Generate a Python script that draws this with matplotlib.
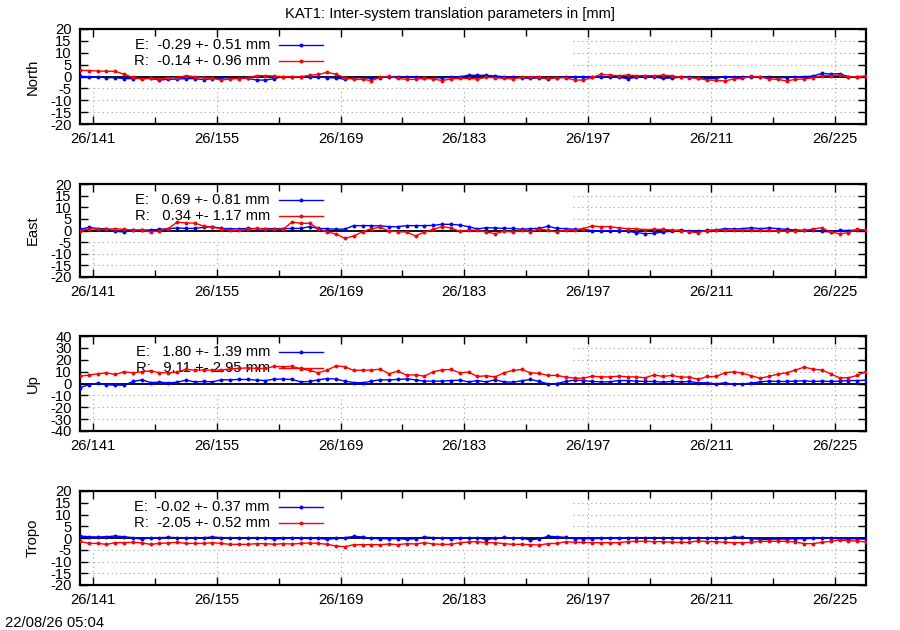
import numpy as np
import matplotlib
matplotlib.use("Agg")
import matplotlib.pyplot as plt
from matplotlib.ticker import FixedLocator, FuncFormatter

plt.rcParams['font.family'] = ['Liberation Sans', 'DejaVu Sans']

# ---------------- data ----------------
days = np.arange(139.5, 229.0, 1.0)          # day of year 2026 (90 daily solutions)
major_days = [141, 155, 169, 183, 197, 211, 225]
minor_days = [148, 162, 176, 190, 204, 218]

north_E = [0.07, -0.07, -0.2, -0.5, -0.5, -0.9, -0.9, -0.8, -0.8, -1.5, -1.2, -1.05, -0.9, -0.9, -1.3,
           -0.9, -0.6, -0.6, -0.8, -0.8, -1.5, -1.5, -0.9, -0.07, -0.07, -0.07, -0.07, -0.07, -0.5, -0.6,
           -1.2, -0.5, -0.5, -0.8, -0.5, -0.07, -0.2, -0.35, -0.07, -0.5, -0.5, -0.6, -0.35,
           -0.07, 0.5, 0.5, 0.5, 0.2, -0.07, -0.35, -0.6, -0.8, -0.6, -1.05, -0.5, -0.35, -0.07, -0.07,
           -0.2, -0.07, -0.35, -0.35, -0.9, -0.35, -0.07, -0.2, -0.8, -0.6, -0.35, -0.35, -0.5, -0.8, -0.8,
           -0.07, -0.2, -0.07, -0.07, -0.2, -0.35, -0.5, -0.5, -0.07, -0.07, 0.2, 1.3, 1.05, 1.2, -0.07,
           -0.07, 0.07]
north_R = [2.6, 2.5, 2.3, 2.2, 2.2, 0.9, -0.35, -1.05, -0.8, -1.05, -0.5, -0.5, 0.35, -0.1, -0.5,
           -0.8, -1.5, -1.05, -0.9, -0.5, 0.35, 0.35, 0.2, -0.1, -0.1, -0.1, 0.5, 0.9, 1.75, 0.9, -0.5,
           -1.2, -1.2, -1.75, -0.35, 0.1, -0.8, -1.2, -1.2, -0.8, -1.0, -1.75, -1.0,
           -0.8, -0.8, -1.05, -0.35, -0.5, -0.8, -1.05, -0.35, -0.1, -0.35, -0.8, -0.5, -0.5, -1.5, -1.5,
           -0.35, 0.9, 0.6, 0.35, 0.6, 0.35, 0.35, 0.35, 0.5, 0.35, -0.35, -0.5, -0.8, -1.5, -1.6, -1.9,
           -1.05, -0.8, 0.1, -0.1, -1.05, -1.2, -1.9, -1.2, -1.05, -0.5, 0.35, 0.35, 0.6, -0.1, -0.1, 0.2]

east_E = [0.5, 1.35, 0.8, 0.8, -0.35, -0.65, 0.07, 0.2, 0.2, 0.5, 0.8, 1.1, 0.9, 0.9, 1.35, 1.65, 0.9,
          0.8, 0.65, 0.9, 0.8, 0.8, 0.8, 0.8, 0.9, 0.9, 1.65, 0.9, 0.8, 0.5, 0.65, 2.1, 2.1, 2.1, 1.95,
          1.65, 1.65, 2.1, 2.1, 2.1, 2.2, 2.65, 2.65,
          2.35, 1.65, 0.65, 1.2, 1.1, 0.9, 0.9, 0.5, 0.8, 0.9, 1.8, 0.9, 0.8, 0.5, 0.5, -0.07, -0.07,
          -0.07, -0.07, -0.35, -0.9, -1.35, -1.2, -0.65, -0.35, 0.2, -0.2, -0.35, 0.07, 0.2, 0.8, 0.65,
          0.8, 1.2, 0.8, 1.1, 0.8, 0.5, 0.2, 0.07, 0.07, -0.35, -0.65, 0.07, 0.0, 0.2, 0.2]
east_R = [-0.2, 0.8, 0.5, 0.5, 0.8, 0.5, 0.2, 0.2, -0.65, -0.07, 0.8, 3.65, 3.2, 3.2, 1.9, 1.35, 0.8,
          0.07, 0.07, 0.5, 0.9, 0.5, 0.5, 0.5, 3.65, 3.1, 3.1, 0.8, -0.65, -1.5, -3.4, -2.35, -0.5, 0.8,
          1.35, -0.2, -0.5, -0.65, -2.35, -0.65, 0.5, 1.65, 1.1,
          -0.35, 0.2, 0.07, -0.65, -1.35, -0.35, -0.65, 0.07, -0.5, 0.65, 0.07, -0.65, 0.2, 0.07, 0.8,
          2.0, 1.6, 1.7, 1.1, 0.8, 0.8, 0.35, 0.5, 0.5, 0.2, 0.0, -0.65, -0.9, 0.0, 0.2, 0.2, 0.07, 0.2,
          0.2, 0.07, 0.07, -0.35, -0.35, -0.35, 0.07, 0.65, 1.2, -0.65, -1.35, -1.0, 0.5, 0.2]

up_E = [-3.4, -1.1, 0.3, -1.1, -1.4, -1.4, 1.7, 3.1, 0.8, 1.1, 0.6, 1.1, 2.8, 1.4, 1.7, 1.4, 3.1, 3.1,
        3.4, 3.4, 2.8, 2.5, 3.7, 3.7, 3.4, 1.4, 1.7, 3.1, 4.2, 3.7, 2.0, 0.8, 0.6, 2.0, 3.1, 3.1, 3.4,
        3.9, 3.1, 2.0, 2.0, 2.0, 2.5,
        2.8, 1.4, 2.5, 1.4, 3.1, 1.4, 1.1, 2.3, 3.4, 1.7, -0.3, 0.0, 1.7, 2.8, 2.5, 1.7, 1.4, 1.4, 2.5,
        2.5, 2.0, 1.7, 1.7, 1.1, 1.7, 1.4, 1.7, 0.6, 0.6, -0.3, 0.6, -0.6, -0.3, 0.3, 1.4, 2.0, 1.7,
        1.7, 2.0, 2.3, 1.7, 2.0, 1.7, 2.0, 2.5, 2.5, 2.8]
up_R = [6.2, 7.0, 8.2, 9.0, 7.6, 9.9, 9.0, 9.9, 10.7, 9.0, 9.0, 9.6, 11.8, 11.3, 11.3, 11.3, 11.3, 12.4,
        12.7, 13.2, 12.7, 12.7, 14.4, 14.1, 14.4, 12.4, 11.0, 9.0, 11.3, 14.9, 14.1, 11.0, 11.3, 11.3,
        12.1, 8.2, 10.4, 7.0, 7.3, 6.2, 9.9, 11.5, 11.8,
        9.0, 9.6, 5.9, 6.5, 5.6, 9.0, 11.0, 11.8, 9.0, 8.5, 6.8, 6.8, 5.4, 4.5, 4.5, 6.2, 5.6, 5.6, 6.2,
        5.6, 5.6, 4.8, 7.3, 5.9, 6.8, 5.4, 5.4, 3.4, 5.9, 5.9, 9.0, 9.9, 8.7, 6.5, 4.5, 5.9, 7.9, 9.0,
        11.3, 13.8, 12.1, 11.3, 8.2, 4.8, 4.8, 6.8, 10.1]

tropo_E = [0.85, 0.55, 0.45, 0.55, 0.85, 0.55, 0.15, -0.55, 0.15, 0.15, 0.3, 0.15, 0.15, 0.15, 0.15,
           0.45, 0.15, 0.15, 0.0, 0.15, 0.15, 0.0, -0.45, -0.15, -0.15, -0.15, -0.15, -0.15, -0.55, -0.15,
           0.15, 0.7, 0.45, -0.15, -0.3, -0.3, -0.3, -0.55, -0.3, 0.45, 0.15, 0.0, -0.3,
           -0.15, 0.15, 0.15, -0.7, -0.15, 0.3, 0.0, 0.0, -0.85, -0.3, 0.7, 0.55, 0.3, -0.3, -0.3, -0.3,
           -0.15, -0.15, -0.15, 0.0, 0.15, 0.15, 0.15, 0.15, 0.0, -0.15, -0.15, 0.15, -0.15, -0.15, -0.15,
           0.45, 0.3, -0.3, -0.55, -0.55, -0.45, -0.45, -0.3, -0.3, -0.15, 0.0, -0.15, -0.3, -0.45, -0.3,
           -0.55]
tropo_R = [-1.4, -2.3, -2.3, -2.7, -2.0, -2.0, -1.85, -2.1, -2.7, -2.3, -2.1, -1.85, -2.3, -2.3, -2.3,
           -2.0, -2.3, -2.7, -2.7, -2.7, -2.4, -2.4, -2.7, -2.4, -2.55, -2.3, -2.1, -2.3, -2.7, -3.4, -3.7,
           -2.85, -2.85, -2.85, -2.85, -2.55, -2.85, -2.4, -2.55, -2.0, -2.55, -2.7, -2.7,
           -2.0, -1.7, -1.55, -2.0, -2.0, -2.4, -2.7, -2.7, -2.85, -3.0, -2.4, -2.3, -1.55, -1.85, -1.85,
           -2.0, -2.0, -2.0, -2.0, -1.55, -1.4, -1.4, -1.55, -1.55, -1.85, -1.85, -1.85, -1.15, -1.55,
           -1.55, -1.85, -2.0, -2.0, -1.85, -1.4, -1.4, -1.4, -1.4, -1.7, -2.4, -2.4, -1.85, -1.4, -0.85,
           -1.15, -1.3, -1.7]

panel_names = ["North", "East", "Up", "Tropo"]
panel_E = [north_E, east_E, up_E, tropo_E]
panel_R = [north_R, east_R, up_R, tropo_R]
panel_lim = [20, 20, 40, 20]
panel_step = [5, 5, 10, 5]
label_E = ["E:  -0.29 +- 0.51 mm", "E:   0.69 +- 0.81 mm", "E:   1.80 +- 1.39 mm", "E:  -0.02 +- 0.37 mm"]
label_R = ["R:  -0.14 +- 0.96 mm", "R:   0.34 +- 1.17 mm", "R:   9.11 +- 2.95 mm", "R:  -2.05 +- 0.52 mm"]
title = "KAT1: Inter-system translation parameters in [mm]"
stamp = "22/08/26 05:04"

# ---------------- layout ----------------
W, H = 900, 630
fig = plt.figure(figsize=(9, 6.3), dpi=100)
ax_left, ax_right = 80, 866
panel_px = [(29, 124), (184, 277), (336, 431), (491, 585)]  # top, bottom in pixels

FS = 10.6
key_frac_x = (573 - ax_left) / (ax_right - ax_left)

for i, name in enumerate(panel_names):
    top, bot = panel_px[i]
    ax = fig.add_axes([ax_left / W, (H - bot) / H, (ax_right - ax_left) / W, (bot - top) / H])
    lim, step = panel_lim[i], panel_step[i]
    ax.set_xlim(days[0], days[-1])
    ax.set_ylim(-lim, lim)
    yt = np.arange(-lim, lim + step / 2, step)
    ax.set_yticks(yt)
    ax.set_yticklabels([f"{int(v)}" for v in yt], fontsize=FS)
    ax.xaxis.set_major_locator(FixedLocator(major_days))
    ax.xaxis.set_minor_locator(FixedLocator(minor_days))
    ax.xaxis.set_major_formatter(FuncFormatter(lambda v, p: f"26/{int(round(v))}"))
    ax.tick_params(axis='x', which='major', direction='in', top=True, length=6, width=1,
                   labelsize=FS, pad=6)
    ax.tick_params(axis='x', which='minor', direction='in', top=True, length=5, width=1)
    ax.tick_params(axis='y', which='major', direction='in', right=True, length=6, width=1,
                   labelsize=FS, pad=6)
    for s in ax.spines.values():
        s.set_linewidth(1.6)

    # grid (gnuplot style, hidden behind the key area)
    xkey = days[0] + key_frac_x * (days[-1] - days[0])
    first_neg = -step
    gkw = dict(color='#a0a0a0', linestyle=(0, (1, 3)), linewidth=0.8, zorder=0.5)
    for v in yt[1:-1]:
        if v == 0:
            continue
        if v > 0:
            ax.hlines(v, xkey, days[-1], **gkw)
        else:
            ax.hlines(v, days[0], days[-1], **gkw)
    for d in major_days:
        if d < xkey:
            ax.vlines(d, -lim, first_neg, **gkw)
        else:
            ax.vlines(d, -lim, lim, **gkw)

    ax.axhline(0, color='black', linewidth=1.3, zorder=1)

    ax.plot(days, panel_E[i], color='#0000ff', linewidth=1.0, marker='o', markersize=2.8,
            markeredgewidth=0, zorder=3)
    ax.plot(days, panel_R[i], color='#ff0000', linewidth=1.0, marker='o', markersize=2.8,
            markeredgewidth=0, zorder=4)

    # key
    h = bot - top
    fx_text = (270 - ax_left) / (ax_right - ax_left)
    fx0 = (279 - ax_left) / (ax_right - ax_left)
    fx1 = (323 - ax_left) / (ax_right - ax_left)
    fxm = (fx0 + fx1) / 2
    for lab, col, off in [(label_E[i], '#0000ff', 16), (label_R[i], '#ff0000', 32)]:
        fy = 1 - off / h
        ax.text(fx_text, fy, lab, transform=ax.transAxes, ha='right', va='center', fontsize=FS,
                zorder=2)
        ax.plot([fx0, fx1], [fy, fy], transform=ax.transAxes, color=col, linewidth=1.0, zorder=5)
        ax.plot([fxm], [fy], transform=ax.transAxes, color=col, marker='o', markersize=2.8,
                markeredgewidth=0, zorder=5)

    ax.set_ylabel(name, fontsize=FS)
    ax.yaxis.set_label_coords(-(ax_left - 40) / (ax_right - ax_left), 0.5)

fig.text(0.5, 1 - 14 / H, title, ha='center', va='center', fontsize=FS)
fig.text(5 / W, 1 - 623 / H, stamp, ha='left', va='center', fontsize=FS)

fig.savefig("out.png", dpi=100)
